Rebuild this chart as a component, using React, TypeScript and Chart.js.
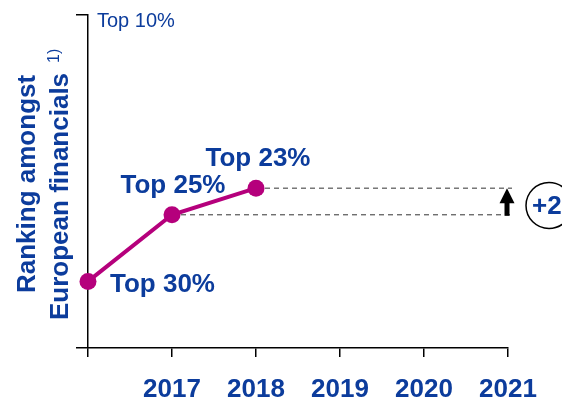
import React, { useEffect, useRef } from "react";
import { Chart, registerables } from "chart.js";

Chart.register(...registerables);

const categories = ["", "2017", "2018", "2019", "2020", "2021"];
const rankValues = [30, 25, 23, null, null, null];
const pointLabels = ["Top 30%", "Top 25%", "Top 23%"];
const yTopLabel = "Top 10%";
const yTitleLines = ["Ranking amongst", "European financials"];
const yTitleNote = "1)";
const changeLabel = "+2";

const BLUE = "#0c3c9c";
const MAGENTA = "#b5007c";
const FONT = "'Liberation Sans', Arial, sans-serif";

const overlay = {
  id: "overlay",
  beforeDatasetsDraw(chart: any) {
    const { ctx, chartArea, scales } = chart;
    const x = scales.x;
    const y = scales.y;
    const y23 = y.getPixelForValue(23);
    const y25 = y.getPixelForValue(25);
    const x17 = x.getPixelForValue(1);
    const x18 = x.getPixelForValue(2);
    const right = chartArea.right + 4;
    ctx.save();
    ctx.strokeStyle = "#333";
    ctx.lineWidth = 1;
    ctx.setLineDash([5, 4]);
    ctx.beginPath();
    ctx.moveTo(x18, y23);
    ctx.lineTo(right, y23);
    ctx.moveTo(x17, y25);
    ctx.lineTo(right, y25);
    ctx.stroke();
    ctx.setLineDash([]);
    // arrow
    const ax = chartArea.right - 1;
    ctx.fillStyle = "#000";
    ctx.beginPath();
    ctx.moveTo(ax, y23);
    ctx.lineTo(ax + 7.5, y23 + 15);
    ctx.lineTo(ax - 7.5, y23 + 15);
    ctx.closePath();
    ctx.fill();
    ctx.fillRect(ax - 2.5, y23 + 14, 5, y25 - y23 - 13);
    // circle
    const cx = chartArea.right + 41;
    const cy = (y23 + y25) / 2 + 4;
    ctx.strokeStyle = "#000";
    ctx.lineWidth = 1.5;
    ctx.beginPath();
    ctx.arc(cx, cy, 23, 0, Math.PI * 2);
    ctx.stroke();
    ctx.fillStyle = BLUE;
    ctx.font = `bold 26px ${FONT}`;
    ctx.textAlign = "left";
    ctx.textBaseline = "middle";
    ctx.fillText(changeLabel, cx - 17, cy + 1);
    ctx.restore();
  },
  afterDatasetsDraw(chart: any) {
    const { ctx, chartArea, scales } = chart;
    const meta = chart.getDatasetMeta(0);
    ctx.save();
    ctx.fillStyle = BLUE;
    ctx.font = `bold 26px ${FONT}`;
    ctx.textBaseline = "alphabetic";
    const p0 = meta.data[0];
    ctx.textAlign = "left";
    ctx.fillText(pointLabels[0], p0.x + 22, p0.y + 11);
    ctx.textAlign = "center";
    const p1 = meta.data[1];
    ctx.fillText(pointLabels[1], p1.x + 1, p1.y - 22);
    const p2 = meta.data[2];
    ctx.fillText(pointLabels[2], p2.x + 2, p2.y - 22);
    // top label
    ctx.font = `20px ${FONT}`;
    ctx.textAlign = "left";
    ctx.fillText(yTopLabel, chartArea.left + 9, scales.y.getPixelForValue(10) + 12);
    // y title
    ctx.font = `bold 26px ${FONT}`;
    ctx.save();
    ctx.translate(35, 293);
    ctx.rotate(-Math.PI / 2);
    ctx.fillText(yTitleLines[0], 0, 0);
    ctx.restore();
    ctx.save();
    ctx.translate(68, 320);
    ctx.rotate(-Math.PI / 2);
    ctx.fillText(yTitleLines[1], 0, 0);
    const w = ctx.measureText(yTitleLines[1]).width;
    ctx.font = `16px ${FONT}`;
    ctx.fillText(yTitleNote, w + 10, -9);
    ctx.restore();
    ctx.restore();
  },
};

export default function App() {
  const ref = useRef<HTMLCanvasElement>(null);
  useEffect(() => {
    if (!ref.current) return;
    const chart = new Chart(ref.current, {
      type: "line",
      data: {
        labels: categories,
        datasets: [
          {
            data: rankValues,
            borderColor: MAGENTA,
            backgroundColor: MAGENTA,
            borderWidth: 4,
            pointRadius: 8.5,
            pointBackgroundColor: MAGENTA,
            pointBorderWidth: 0,
            clip: false as any,
            spanGaps: false,
          },
        ],
      },
      options: {
        animation: false,
        responsive: false,
        layout: { padding: { left: 0, top: 15, right: 54, bottom: 0 } },
        plugins: { legend: { display: false }, tooltip: { enabled: false } },
        scales: {
          x: {
            type: "category",
            offset: false,
            grid: { display: true, drawOnChartArea: false, drawTicks: true, tickLength: 9, color: "#000", lineWidth: 1.5 },
            border: { display: true, color: "#000", width: 1.5 },
            ticks: { color: BLUE, font: { family: FONT, size: 26, weight: "bold" }, padding: 17, maxRotation: 0, autoSkip: false },
            afterFit: (s: any) => { s.height = 54; },
          },
          y: {
            type: "linear",
            reverse: true,
            min: 10,
            max: 35,
            grid: { display: true, drawOnChartArea: false, drawTicks: true, tickLength: 12, color: "#000", lineWidth: 1.5 },
            border: { display: true, color: "#000", width: 1.5 },
            ticks: { display: false },
            afterBuildTicks: (s: any) => { s.ticks = [{ value: 10 }, { value: 35 }]; },
            afterFit: (s: any) => { s.width = 88; },
          },
        },
      },
      plugins: [overlay],
    });
    return () => chart.destroy();
  }, []);
  return (
    <div style={{ position: "fixed", left: 0, top: 0, width: 562, height: 402, background: "#fff" }}>
      <canvas ref={ref} width={562} height={402} />
    </div>
  );
}
